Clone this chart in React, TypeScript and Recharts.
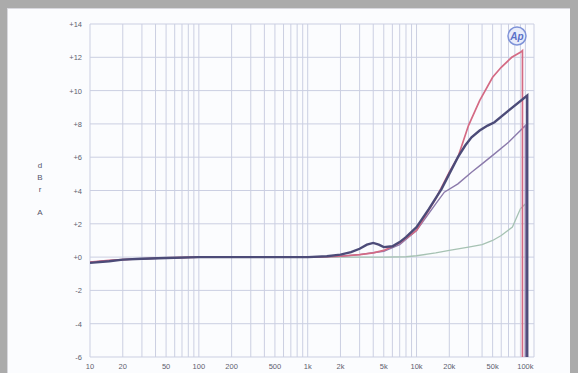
import React from "react";
import { LineChart, Line, XAxis, YAxis, CartesianGrid } from "recharts";

// frequency response sweep, dBrA vs Hz
const redFreq = [10, 15, 20, 30, 50, 100, 300, 1000, 1500, 2000, 3000, 4000, 5000, 7000, 10000, 15000, 20000, 24000, 30000, 38000, 50000, 60000, 75000, 90000, 94000, 94000];
const redDb = [-0.3, -0.2, -0.15, -0.1, -0.05, 0, 0, 0, 0.02, 0.05, 0.15, 0.25, 0.4, 0.85, 1.6, 3.5, 5.1, 6.0, 7.9, 9.4, 10.8, 11.4, 12.0, 12.3, 12.4, -7];

const darkFreq = [10, 15, 20, 30, 50, 100, 300, 1000, 1500, 2000, 2500, 3000, 3500, 4000, 4500, 5000, 6000, 7000, 8000, 10000, 13000, 17000, 20000, 24000, 28000, 32000, 38000, 45000, 52000, 70000, 104000, 104000];
const darkDb = [-0.35, -0.25, -0.15, -0.1, -0.05, 0, 0, 0, 0.05, 0.15, 0.3, 0.5, 0.75, 0.85, 0.75, 0.6, 0.65, 0.9, 1.2, 1.8, 2.9, 4.1, 5.0, 6.0, 6.7, 7.2, 7.6, 7.9, 8.1, 8.8, 9.7, -7];

const purpleFreq = [10, 20, 50, 100, 1000, 2000, 3000, 5000, 7000, 10000, 15000, 18000, 24000, 32000, 40000, 52000, 70000, 90000, 100000, 100000];
const purpleDb = [-0.3, -0.15, -0.05, 0, 0, 0.05, 0.15, 0.35, 0.75, 1.6, 3.2, 3.9, 4.4, 5.1, 5.6, 6.2, 6.9, 7.6, 7.9, -7];

const greenFreq = [10, 20, 50, 100, 1000, 5000, 8000, 10000, 15000, 20000, 30000, 40000, 50000, 60000, 76000, 90000, 100000, 100000];
const greenDb = [-0.3, -0.15, -0.05, 0, 0, 0, 0.02, 0.08, 0.25, 0.4, 0.6, 0.75, 1.0, 1.3, 1.8, 2.9, 3.2, -7];

const xLabelValues = [10, 20, 50, 100, 200, 500, 1000, 2000, 5000, 10000, 20000, 50000, 100000];
const xLabels = ["10", "20", "50", "100", "200", "500", "1k", "2k", "5k", "10k", "20k", "50k", "100k"];
const yTicks = [-6, -4, -2, 0, 2, 4, 6, 8, 10, 12, 14];
const yLabels = ["-6", "-4", "-2", "+0", "+2", "+4", "+6", "+8", "+10", "+12", "+14"];

const toRows = (f: number[], db: number[]) => f.map((v, i) => ({ f: v, db: db[i] }));

// grid lines at every 1..9 multiple of each decade
const gridTicks: number[] = [];
for (let d = 10; d <= 100000; d *= 10) {
  for (let m = 1; m <= 9; m++) {
    const v = d * m;
    if (v <= 100000) gridTicks.push(v);
  }
}

const FONT = "'Liberation Sans', Arial, sans-serif";

const XTick = (props: any) => {
  const { x, y, payload } = props;
  const idx = xLabelValues.indexOf(payload.value);
  if (idx < 0) return null;
  return (
    <text x={x} y={y + 4} textAnchor="middle" fontSize={7.5} fill="#5e5e6e" fontFamily={FONT}>
      {xLabels[idx]}
    </text>
  );
};

const YTick = (props: any) => {
  const { x, y, payload } = props;
  const idx = yTicks.indexOf(payload.value);
  return (
    <text x={x} y={y + 3} textAnchor="end" fontSize={7.5} fill="#5e5e6e" fontFamily={FONT}>
      {yLabels[idx]}
    </text>
  );
};

export default function App() {
  return (
    <div
      style={{
        position: "fixed",
        left: 0,
        top: 0,
        width: 578,
        height: 373,
        background: "#ababab",
      }}
    >
      <div
        style={{
          position: "absolute",
          left: 7,
          top: 8,
          width: 563,
          height: 365,
          background: "#fbfcfe",
          boxShadow: "inset 1px 1px 0 #d8d8de",
        }}
      />
      <div style={{ position: "absolute", left: 0, top: 0 }}>
        <LineChart width={578} height={373} margin={{ top: 24, right: 44, bottom: 0, left: 58 }}>
          <CartesianGrid stroke="#cbcfe2" strokeWidth={1} />
          <XAxis
            dataKey="f"
            type="number"
            scale="log"
            domain={[10, 120000]}
            ticks={gridTicks}
            interval={0}
            allowDataOverflow
            axisLine={false}
            tickLine={false}
            height={16}
            tick={<XTick />}
          />
          <YAxis
            type="number"
            domain={[-6, 14]}
            ticks={yTicks}
            interval={0}
            allowDataOverflow
            axisLine={false}
            tickLine={false}
            width={32}
            tick={<YTick />}
          />
          <Line data={toRows(greenFreq, greenDb)} dataKey="db" stroke="#a6c2b3" strokeWidth={1.3} dot={false} isAnimationActive={false} />
          <Line data={toRows(purpleFreq, purpleDb)} dataKey="db" stroke="#8b7aab" strokeWidth={1.4} dot={false} isAnimationActive={false} />
          <Line data={toRows(redFreq, redDb)} dataKey="db" stroke="#d46a84" strokeWidth={1.7} dot={false} isAnimationActive={false} />
          <Line data={toRows(darkFreq, darkDb)} dataKey="db" stroke="#4c4b78" strokeWidth={2.4} dot={false} isAnimationActive={false} />
          <text x={40} fontSize={8} fill="#55556a" fontFamily={FONT} textAnchor="middle">
            <tspan x={40} y={168}>d</tspan>
            <tspan x={40} y={180}>B</tspan>
            <tspan x={40} y={192}>r</tspan>
            <tspan x={40} y={215}>A</tspan>
          </text>
          <g>
            <circle cx={517} cy={36} r={9} fill="#e8ecfa" stroke="#7f93d8" strokeWidth={1.5} />
            <text x={517} y={40} textAnchor="middle" fontSize={10} fontStyle="italic" fontWeight="bold" fill="#5b70c8" fontFamily={FONT}>
              Ap
            </text>
          </g>
        </LineChart>
      </div>
    </div>
  );
}
